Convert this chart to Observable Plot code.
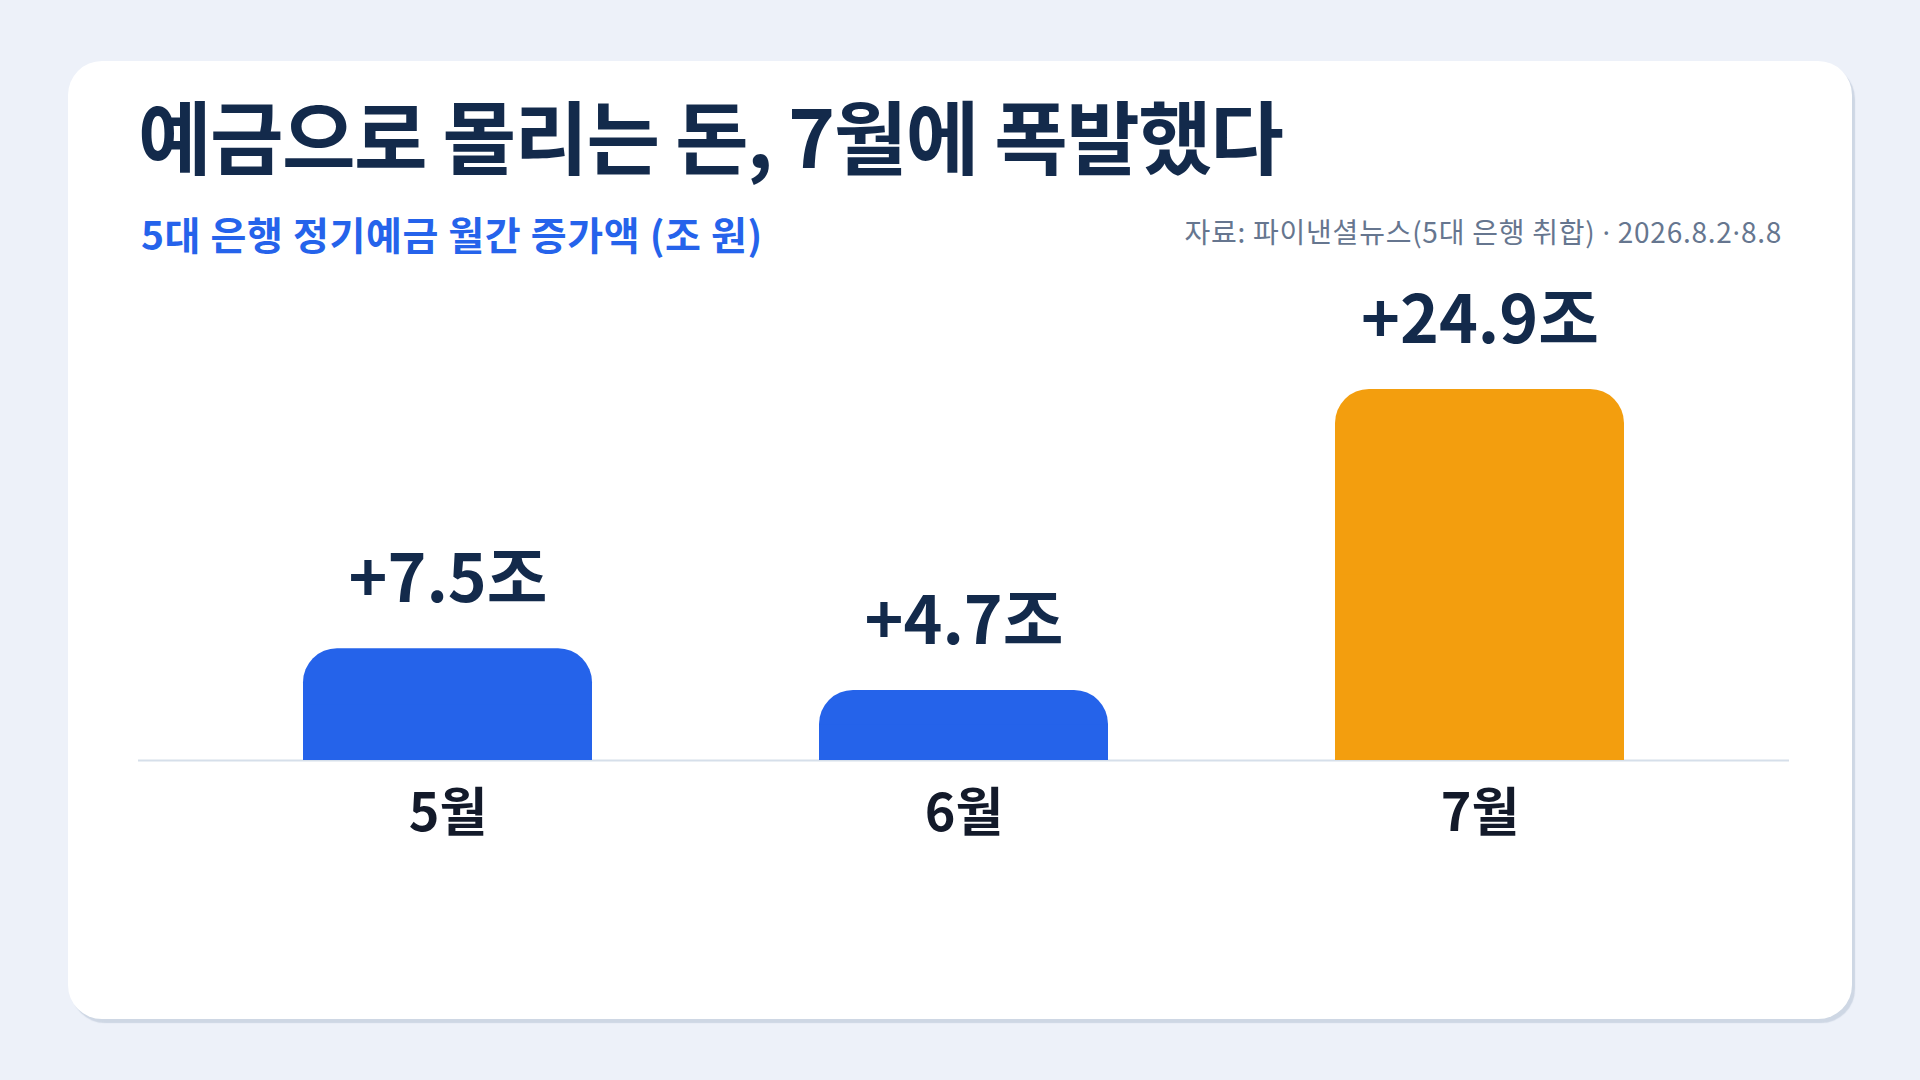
<!DOCTYPE html>
<html>
<head>
<meta charset="utf-8">
<script src="https://cdn.jsdelivr.net/npm/d3@7"></script>
<script src="https://cdn.jsdelivr.net/npm/@observablehq/plot@0.6"></script>
<style>
  html, body { margin: 0; padding: 0; }
  body { width: 1920px; height: 1080px; background: #edf1f9; position: relative; overflow: hidden;
         font-family: "Noto Sans CJK KR", "Noto Sans", sans-serif; }
  #card { position: absolute; left: 68px; top: 61px; width: 1784px; height: 958px; background: #ffffff;
          border-radius: 34px; box-shadow: 3px 4px 1px rgba(150,165,190,0.35); }
  #title { position: absolute; left: 70px; top: 20px; margin: 0; font-size: 80px; font-weight: 700;
           color: #132a4b; line-height: 1.3; letter-spacing: -1.6px; white-space: nowrap; }
  #subtitle { position: absolute; left: 73px; top: 147px; font-size: 39px; font-weight: 600; color: #2563eb;
              line-height: 1.3; white-space: nowrap; letter-spacing: 0.6px; }
  #source { position: absolute; right: 70px; top: 152px; font-size: 28px; font-weight: 400; color: #66768f;
            line-height: 1.3; white-space: nowrap; letter-spacing: 0.75px; }
  .dot { font-family: "Noto Sans", "DejaVu Sans", sans-serif; }
  #chart { position: absolute; left: 0; top: 179px; }
</style>
</head>
<body>
<div id="card">
  <div id="title">예금으로 몰리는 돈, 7월에 폭발했다</div>
  <div id="subtitle">5대 은행 정기예금 월간 증가액 (조 원)</div>
  <div id="source">자료: 파이낸셜뉴스(5대 은행 취합) <span class="dot">·</span> 2026.8.2<span class="dot">·</span>8.8</div>
  <div id="chart"></div>
</div>
<script>
const months = ["5월", "6월", "7월"];
const values = [7.5, 4.7, 24.9];
const valueLabels = ["+7.5조", "+4.7조", "+24.9조"];
const barColors = ["#2563ea", "#2563ea", "#f39e0e"];

const data = months.map((m, i) => ({month: m, value: values[i], label: valueLabels[i], color: barColors[i]}));

const plot = Plot.plot({
  width: 1784,
  height: 640,
  marginLeft: 70,
  marginRight: 63,
  marginTop: 73,
  marginBottom: 120,
  style: {background: "transparent", fontFamily: "'Noto Sans CJK KR', sans-serif", overflow: "visible"},
  x: {domain: months, paddingInner: 0.44, paddingOuter: 0.318, axis: null},
  y: {domain: [0, 30], axis: null},
  marks: [
    Plot.ruleY([0], {stroke: "#d6dfea", strokeWidth: 2}),
    Plot.barY(data, {x: "month", y: "value", fill: "color", rx: 34}),
    Plot.barY(data, {x: "month", y1: 0, y2: d => d.value / 2, fill: "color"}),
    Plot.text(data, {x: "month", y: "value", text: "label", dy: -68, fontSize: 66, fontWeight: 700,
                     fill: "#132a4b", textAnchor: "middle"}),
    Plot.text(data, {x: "month", y: 0, text: "month", dy: 54, fontSize: 52, fontWeight: 700,
                     fill: "#131a2a", textAnchor: "middle"})
  ]
});
document.getElementById("chart").appendChild(plot);
</script>
</body>
</html>
